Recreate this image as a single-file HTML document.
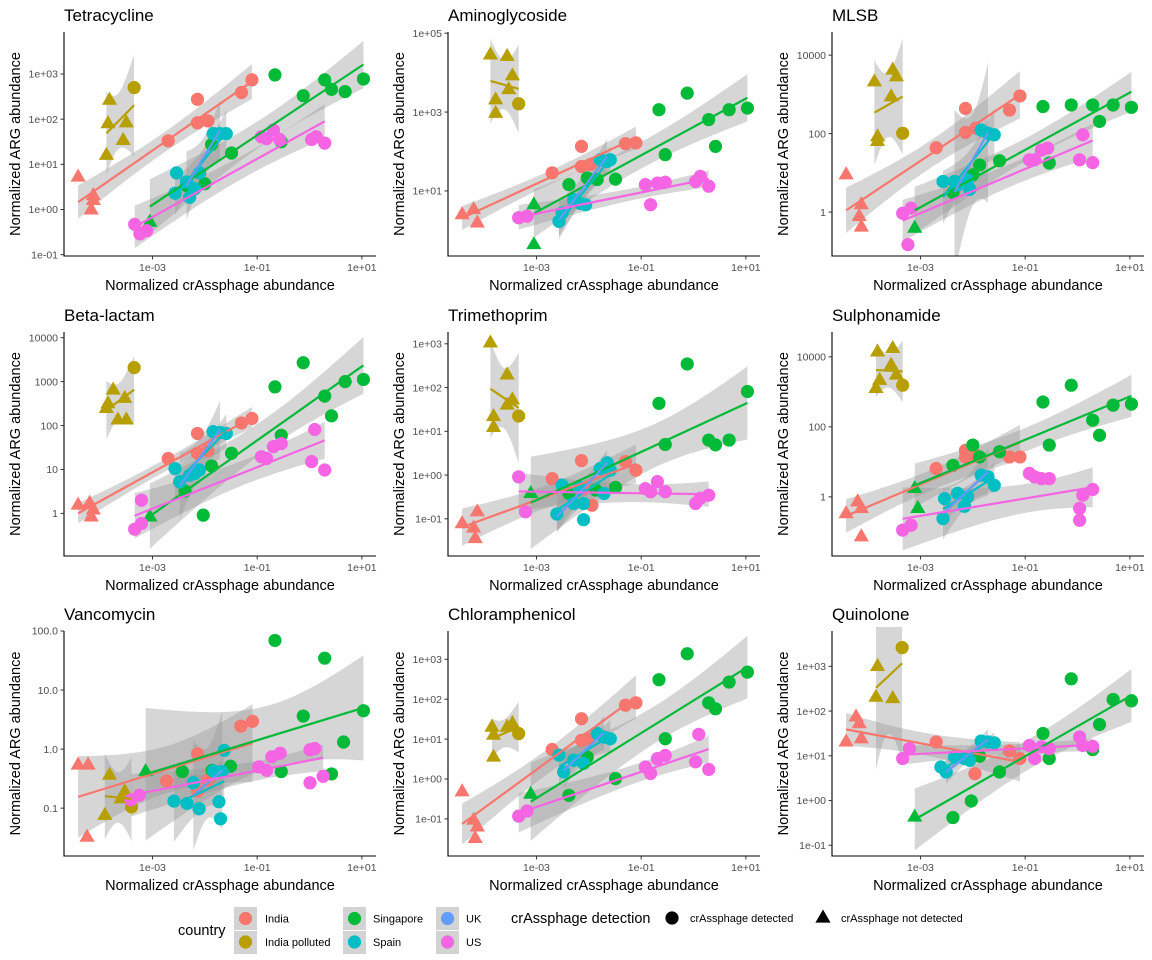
<!DOCTYPE html>
<html><head><meta charset="utf-8">
<style>
html,body{margin:0;padding:0;background:#fff;}
svg{display:block;font-family:"Liberation Sans",Arial,sans-serif;}
</style></head>
<body>
<svg id="chart" width="1152" height="960" viewBox="0 0 1152 960" xmlns="http://www.w3.org/2000/svg"></svg>
<script>
// ---- data (log10 values): [countryIndex, log10 crAssphage, log10 ARG, detected(1)/not(0)]
const countries = ["India","India polluted","Singapore","Spain","UK","US"];
const countryColors = ["#F8766D","#B79F00","#00BA38","#00BFC4","#619CFF","#F564E3"];
const panelTitles = ["Tetracycline","Aminoglycoside","MLSB","Beta-lactam","Trimethoprim","Sulphonamide","Vancomycin","Chloramphenicol","Quinolone"];
const xTickLogs = [-3,-1,1];
const xTickLabels = ["1e-03","1e-01","1e+01"];
const xDomain = [-4.69,1.27];
const yDomains = [[-1.03,3.93],[-0.65,5.03],[-1.12,4.59],[-0.97,4.13],[-1.85,3.27],[-1.69,4.71],[-1.81,2.0],[-1.93,3.71],[-1.24,3.79]];
const yTickLogs = [[-1,0,1,2,3],[1,3,5],[0,2,4],[0,1,2,3,4],[-1,0,1,2,3],[0,2,4],[-1,0,1,2],[-1,0,1,2,3],[-1,0,1,2,3]];
const yTickLabels = [["1e-01","1e+00","1e+01","1e+02","1e+03"],["1e+01","1e+03","1e+05"],["1","100","10000"],["1","10","100","1000","10000"],["1e-01","1e+00","1e+01","1e+02","1e+03"],["1","100","10000"],["0.1","1.0","10.0","100.0"],["1e-01","1e+00","1e+01","1e+02","1e+03"],["1e-01","1e+00","1e+01","1e+02","1e+03"]];

const tetracycline = [
[0,-2.70,1.52,1],[0,-2.14,2.44,1],[0,-2.14,1.92,1],[0,-1.94,1.96,1],[0,-1.30,2.59,1],[0,-1.10,2.87,1],[0,-4.42,0.72,0],[0,-4.13,0.31,0],[0,-4.13,0.20,0],[0,-4.17,-0.01,0],
[1,-3.35,2.70,1],[1,-3.82,2.42,0],[1,-3.85,1.90,0],[1,-3.50,1.92,0],[1,-3.56,1.53,0],[1,-3.88,1.20,0],
[2,-0.66,2.98,1],[2,-1.87,1.44,1],[2,-1.49,1.25,1],[2,-2.00,0.57,1],[2,-2.35,0.53,1],[2,-0.12,2.52,1],[2,0.29,2.87,1],[2,0.42,2.66,1],[2,0.68,2.61,1],[2,1.03,2.89,1],[2,-0.54,1.50,1],[2,-3.05,-0.28,0],
[4,-2.35,0.61,1],[4,-2.10,0.81,1],[4,-1.84,1.68,1],[4,-1.71,1.68,1],
[3,-1.84,1.68,1],[3,-1.71,1.68,1],[3,-1.59,1.68,1],[3,-2.54,0.81,1],[3,-2.10,0.81,1],[3,-2.57,0.36,1],[3,-2.29,0.27,1],[3,-2.19,0.46,1],[3,-2.35,0.61,1],
[5,-3.34,-0.33,1],[5,-3.24,-0.54,1],[5,-3.11,-0.47,1],[5,-0.92,1.61,1],[5,-0.82,1.57,1],[5,-0.69,1.76,1],[5,-0.57,1.55,1],[5,0.04,1.55,1],[5,0.29,1.47,1],[5,0.13,1.61,1]];
const aminoglycoside = [
[1,-3.88,4.45,0],[1,-3.56,4.41,0],[1,-3.46,3.92,0],[1,-3.53,3.57,0],[1,-3.78,3.31,0],[1,-3.78,2.97,0],[1,-3.34,3.21,1],
[0,-2.70,1.46,1],[0,-2.14,2.13,1],[0,-2.14,1.62,1],[0,-1.97,1.67,1],[0,-1.30,2.20,1],[0,-1.10,2.22,1],[0,-4.42,0.40,0],[0,-4.20,0.53,0],[0,-4.13,0.19,0],
[2,-0.66,3.06,1],[2,-0.12,3.48,1],[2,0.29,2.81,1],[2,0.68,3.06,1],[2,1.03,3.10,1],[2,0.42,2.13,1],[2,-0.54,1.92,1],[2,-2.38,1.16,1],[2,-2.03,1.33,1],[2,-1.84,1.29,1],[2,-1.49,1.30,1],[2,-3.05,0.65,0],[2,-3.05,-0.36,0],
[4,-2.57,0.23,1],[4,-2.29,0.78,1],[4,-1.78,1.79,1],[4,-1.65,1.75,1],
[3,-1.78,1.79,1],[3,-1.65,1.75,1],[3,-1.59,1.79,1],[3,-2.29,0.78,1],[3,-2.16,0.68,1],[3,-2.06,0.65,1],[3,-2.51,0.44,1],[3,-2.57,0.23,1],
[5,-3.34,0.32,1],[5,-3.18,0.36,1],[5,-0.92,1.16,1],[5,-0.82,0.65,1],[5,-0.69,1.20,1],[5,-0.54,1.22,1],[5,0.04,1.24,1],[5,0.13,1.37,1],[5,0.29,1.12,1]];
const mlsb = [
[1,-3.88,3.32,0],[1,-3.53,3.62,0],[1,-3.46,3.45,0],[1,-3.56,2.94,0],[1,-3.82,1.92,0],[1,-3.82,1.80,0],[1,-3.34,2.01,1],
[0,-2.70,1.64,1],[0,-2.14,2.64,1],[0,-2.14,2.03,1],[0,-1.94,2.14,1],[0,-1.30,2.60,1],[0,-1.10,2.96,1],[0,-4.42,0.95,0],[0,-4.13,0.19,0],[0,-4.17,-0.11,0],[0,-4.13,-0.38,0],
[2,-0.66,2.69,1],[2,-0.12,2.73,1],[2,0.29,2.73,1],[2,0.68,2.73,1],[2,1.03,2.67,1],[2,0.42,2.31,1],[2,-0.54,1.25,1],[2,-1.87,1.20,1],[2,-1.49,1.31,1],[2,-2.00,0.95,1],[2,-2.38,0.50,1],[2,-3.11,-0.41,0],
[4,-2.35,0.78,1],[4,-2.06,0.58,1],[4,-1.84,2.09,1],[4,-1.71,2.01,1],
[3,-1.84,2.09,1],[3,-1.71,2.01,1],[3,-1.59,1.97,1],[3,-2.57,0.78,1],[3,-2.35,0.78,1],[3,-2.10,0.82,1],[3,-2.29,0.69,1],[3,-2.06,0.58,1],
[5,-3.34,-0.03,1],[5,-3.18,0.10,1],[5,-3.24,-0.83,1],[5,-0.92,1.33,1],[5,-0.82,1.33,1],[5,-0.69,1.58,1],[5,-0.57,1.63,1],[5,0.04,1.33,1],[5,0.29,1.26,1],[5,0.10,1.97,1]];
const betaLactam = [
[1,-3.35,3.32,1],[1,-3.75,2.81,0],[1,-3.85,2.50,0],[1,-3.53,2.62,0],[1,-3.66,2.13,0],[1,-3.50,2.13,0],[1,-3.88,2.39,0],
[0,-2.70,1.25,1],[0,-2.14,1.82,1],[0,-2.14,1.37,1],[0,-1.94,1.43,1],[0,-1.30,2.06,1],[0,-1.10,2.16,1],[0,-4.42,0.19,0],[0,-4.20,0.23,0],[0,-4.17,-0.08,0],[0,-4.13,0.08,0],
[2,-0.66,2.88,1],[2,-0.12,3.43,1],[2,0.29,2.67,1],[2,0.68,3.00,1],[2,1.03,3.05,1],[2,0.42,2.22,1],[2,-0.54,1.78,1],[2,-1.49,1.37,1],[2,-1.87,1.08,1],[2,-2.38,0.51,1],[2,-2.03,-0.04,1],[2,-3.05,-0.08,0],
[4,-2.48,0.72,1],[4,-2.19,0.91,1],[4,-1.84,1.86,1],[4,-1.71,1.84,1],
[3,-1.84,1.86,1],[3,-1.71,1.84,1],[3,-1.59,1.82,1],[3,-2.57,1.02,1],[3,-2.48,0.72,1],[3,-2.29,0.87,1],[3,-2.10,0.99,1],[3,-2.19,0.91,1],
[5,-3.21,0.30,1],[5,-3.34,-0.36,1],[5,-3.21,-0.23,1],[5,-0.92,1.29,1],[5,-0.82,1.25,1],[5,-0.69,1.52,1],[5,-0.54,1.59,1],[5,0.10,1.91,1],[5,0.04,1.18,1],[5,0.29,0.99,1]];
const trimethoprim = [
[1,-3.88,3.02,0],[1,-3.56,2.29,0],[1,-3.46,1.72,0],[1,-3.56,1.60,0],[1,-3.82,1.34,0],[1,-3.82,1.09,0],[1,-3.34,1.35,1],
[0,-2.70,-0.08,1],[0,-2.14,0.33,1],[0,-1.94,-0.69,1],[0,-2.10,-0.31,1],[0,-1.30,0.31,1],[0,-1.10,0.11,1],[0,-4.42,-1.11,0],[0,-4.13,-0.84,0],[0,-4.20,-1.21,0],[0,-4.17,-1.45,0],
[2,-0.66,1.64,1],[2,-0.12,2.54,1],[2,1.03,1.91,1],[2,-0.54,0.70,1],[2,0.29,0.80,1],[2,0.42,0.69,1],[2,0.68,0.80,1],[2,-1.49,-0.28,1],[2,-1.87,-0.34,1],[2,-2.38,-0.42,1],[2,-3.11,-0.42,0],
[4,-2.61,-0.89,1],[4,-2.29,-0.65,1],[4,-1.78,0.15,1],[4,-1.65,0.28,1],
[3,-2.51,-0.23,1],[3,-2.19,-0.27,1],[3,-1.78,0.15,1],[3,-1.65,0.28,1],[3,-1.59,0.11,1],[3,-1.71,-0.42,1],[3,-2.29,-0.65,1],[3,-2.10,-0.65,1],[3,-2.61,-0.89,1],[3,-2.10,-1.02,1],
[5,-3.34,-0.04,1],[5,-3.21,-0.84,1],[5,-0.92,-0.31,1],[5,-0.82,-0.38,1],[5,-0.69,-0.15,1],[5,-0.54,-0.38,1],[5,0.04,-0.65,1],[5,0.29,-0.46,1],[5,0.13,-0.53,1]];
const sulphonamide = [
[1,-3.82,4.14,0],[1,-3.53,4.24,0],[1,-3.56,3.76,0],[1,-3.46,3.48,0],[1,-3.78,3.33,0],[1,-3.85,3.10,0],[1,-3.34,3.19,1],
[0,-2.70,0.81,1],[0,-2.14,1.33,1],[0,-2.14,1.14,1],[0,-1.94,1.19,1],[0,-1.30,1.14,1],[0,-1.10,1.14,1],[0,-4.42,-0.48,0],[0,-4.20,-0.14,0],[0,-4.13,-0.33,0],[0,-4.13,-1.14,0],
[2,-0.66,2.71,1],[2,-0.12,3.19,1],[2,0.29,2.19,1],[2,0.42,1.76,1],[2,0.68,2.62,1],[2,1.03,2.65,1],[2,-0.54,1.48,1],[2,-1.49,1.29,1],[2,-1.87,1.14,1],[2,-2.00,1.48,1],[2,-2.38,0.90,1],[2,-3.11,0.24,0],[2,-3.05,-0.33,0],
[4,-2.57,-0.62,1],[4,-2.29,0.10,1],[4,-1.84,0.62,1],[4,-1.71,0.57,1],
[3,-1.84,0.62,1],[3,-1.71,0.57,1],[3,-1.59,0.33,1],[3,-2.54,-0.05,1],[3,-2.29,0.10,1],[3,-2.10,0.00,1],[3,-2.16,-0.27,1],[3,-2.57,-0.62,1],
[5,-3.34,-0.95,1],[5,-3.18,-0.81,1],[5,-0.92,0.67,1],[5,-0.82,0.57,1],[5,-0.69,0.52,1],[5,-0.54,0.52,1],[5,0.04,-0.67,1],[5,0.04,-0.33,1],[5,0.10,0.05,1],[5,0.29,0.21,1]];
const vancomycin = [
[0,-4.42,-0.27,0],[0,-4.23,-0.27,0],[0,-4.25,-1.49,0],[0,-2.73,-0.54,1],[0,-2.14,-0.08,1],[0,-2.14,-0.71,1],[0,-1.94,-0.53,1],[0,-1.31,0.39,1],[0,-1.09,0.47,1],
[1,-3.82,-0.44,0],[1,-3.53,-0.72,0],[1,-3.60,-0.84,0],[1,-3.91,-1.12,0],[1,-3.40,-0.98,1],
[2,-0.66,1.84,1],[2,0.29,1.54,1],[2,-0.12,0.56,1],[2,1.03,0.65,1],[2,0.65,0.12,1],[2,0.42,-0.42,1],[2,-0.54,-0.38,1],[2,-1.51,-0.29,1],[2,-1.86,-0.36,1],[2,-2.43,-0.38,1],[2,-3.13,-0.38,0],
[4,-2.22,-0.57,1],[4,-2.11,-1.01,1],[4,-1.83,-0.37,1],[4,-1.67,-0.38,1],
[3,-1.63,-0.02,1],[3,-1.83,-0.37,1],[3,-1.67,-0.38,1],[3,-2.22,-0.57,1],[3,-2.59,-0.88,1],[3,-2.34,-0.92,1],[3,-2.11,-1.01,1],[3,-1.73,-0.89,1],[3,-1.70,-1.18,1],
[5,-3.41,-0.86,1],[5,-3.25,-0.78,1],[5,-0.97,-0.30,1],[5,-0.82,-0.36,1],[5,-0.72,-0.13,1],[5,-0.56,-0.07,1],[5,0.01,-0.01,1],[5,0.10,0.01,1],[5,0.01,-0.57,1],[5,0.26,-0.46,1]];
const chloramphenicol = [
[0,-4.42,-0.32,0],[0,-4.20,-1.03,0],[0,-4.13,-1.20,0],[0,-4.17,-1.49,0],[0,-2.70,0.74,1],[0,-2.14,1.51,1],[0,-2.14,0.97,1],[0,-2.03,1.01,1],[0,-1.30,1.85,1],[0,-1.10,1.91,1],
[1,-3.85,1.30,0],[1,-3.82,1.10,0],[1,-3.82,0.55,0],[1,-3.56,1.30,0],[1,-3.46,1.39,0],[1,-3.34,1.14,1],
[2,-0.66,2.49,1],[2,-0.12,3.14,1],[2,0.68,2.43,1],[2,1.03,2.68,1],[2,0.29,1.91,1],[2,0.42,1.76,1],[2,-0.54,1.01,1],[2,-1.49,0.01,1],[2,-2.38,-0.41,1],[2,-2.03,0.55,1],[2,-3.11,-0.38,0],
[4,-2.48,0.18,1],[4,-2.29,0.47,1],[4,-1.84,1.14,1],[4,-1.71,1.05,1],
[3,-1.84,1.14,1],[3,-1.71,1.05,1],[3,-1.59,1.01,1],[3,-2.57,0.60,1],[3,-2.29,0.47,1],[3,-2.10,0.39,1],[3,-2.48,0.18,1],
[5,-3.34,-0.93,1],[5,-3.18,-0.80,1],[5,-0.92,0.30,1],[5,-0.82,0.14,1],[5,-0.69,0.51,1],[5,-0.54,0.59,1],[5,0.04,0.43,1],[5,0.29,0.24,1],[5,0.10,1.12,1]];
const quinolone = [
[0,-4.23,1.87,0],[0,-4.42,1.31,0],[0,-4.13,1.38,0],[0,-4.17,1.72,0],[0,-2.70,1.31,1],[0,-1.96,0.60,1],[0,-1.30,1.11,1],[0,-1.10,0.94,1],
[1,-3.35,3.42,1],[1,-3.82,3.00,0],[1,-3.85,2.31,0],[1,-3.53,2.28,0],
[2,-0.12,2.72,1],[2,0.68,2.26,1],[2,1.03,2.23,1],[2,0.42,1.70,1],[2,0.29,1.14,1],[2,-0.66,1.50,1],[2,-0.54,0.94,1],[2,-1.87,0.99,1],[2,-1.49,0.64,1],[2,-2.03,-0.01,1],[2,-2.38,-0.38,1],[2,-3.11,-0.37,0],
[4,-2.51,0.64,1],[4,-2.16,0.94,1],[4,-1.84,1.33,1],[4,-1.71,1.31,1],
[3,-1.84,1.33,1],[3,-1.71,1.31,1],[3,-1.59,1.29,1],[3,-2.35,0.97,1],[3,-2.16,0.94,1],[3,-2.06,0.90,1],[3,-2.61,0.75,1],[3,-2.51,0.64,1],
[5,-3.34,0.94,1],[5,-3.21,1.16,1],[5,-0.92,1.23,1],[5,-0.82,0.94,1],[5,-0.69,1.20,1],[5,-0.54,1.16,1],[5,0.04,1.42,1],[5,0.10,1.23,1],[5,0.29,1.21,1]];
const panelData = [tetracycline,aminoglycoside,mlsb,betaLactam,trimethoprim,sulphonamide,vancomycin,chloramphenicol,quinolone];

// ---- layout
const NS = "http://www.w3.org/2000/svg";
const svg = document.getElementById("chart");
const colLeft = [0,384,768];
const rowBox = [[32,256],[332,556],[631,856]];
const tTable = [0,12.71,4.30,3.18,2.78,2.57,2.45,2.36,2.31,2.26,2.23,2.20,2.18,2.16,2.14,2.13];
function mk(tag, attrs, parent){
  const e = document.createElementNS(NS, tag);
  for (const k in attrs) e.setAttribute(k, attrs[k]);
  (parent||svg).appendChild(e);
  return e;
}
function fit(pts){
  const n = pts.length;
  let mx=0,my=0; pts.forEach(p=>{mx+=p[1];my+=p[2];}); mx/=n; my/=n;
  let sxx=0,sxy=0; pts.forEach(p=>{sxx+=(p[1]-mx)**2; sxy+=(p[1]-mx)*(p[2]-my);});
  const b = sxy/sxx, a = my - b*mx;
  let sse=0; pts.forEach(p=>{sse+=(p[2]-a-b*p[1])**2;});
  const df = n-2, s = Math.sqrt(sse/Math.max(df,1));
  const t = df < tTable.length ? tTable[Math.max(df,1)] : 2.1;
  return {a,b,mx,sxx,n,s,t};
}

panelData.forEach((data, pi) => {
  const cx = colLeft[pi%3], row = rowBox[Math.floor(pi/3)];
  const L = cx+64, R = cx+376, T = row[0], B = row[1];
  const yd = yDomains[pi];
  const xs = v => L + (v - xDomain[0])/(xDomain[1]-xDomain[0])*(R-L);
  const ys = v => B - (v - yd[0])/(yd[1]-yd[0])*(B-T);
  const g = mk("g", {});
  
  
  const clipId = "clip"+pi;
  const cp = mk("clipPath", {id:clipId}, g);
  mk("rect", {x:L, y:T-4, width:R-L+4, height:B-T+4}, cp);

  const title = mk("text", {x:L, y:T-11, "font-size":"17", fill:"#000"}, g);
  title.textContent = panelTitles[pi];
  
  

  const groups = countries.map((_,ci)=>data.filter(p=>p[0]===ci));
  const bandG = mk("g", {"clip-path":"url(#"+clipId+")"}, g);
  const lineDefs = [];
  groups.forEach((pts, ci) => {
    if (pts.length < 3) return;
    const f = fit(pts);
    const xmin = Math.min(...pts.map(p=>p[1])), xmax = Math.max(...pts.map(p=>p[1]));
    const up=[], lo=[];
    for (let k=0;k<=40;k++){
      const x = xmin + (xmax-xmin)*k/40;
      const yhat = f.a + f.b*x;
      const se = f.s*Math.sqrt(1/f.n + (x-f.mx)**2/f.sxx);
      up.push(xs(x).toFixed(1)+","+ys(yhat+f.t*se).toFixed(1));
      lo.push(xs(x).toFixed(1)+","+ys(yhat-f.t*se).toFixed(1));
    }
    const band = mk("polygon", {points: up.concat(lo.reverse()).join(" "), fill:"rgba(153,153,153,0.4)"}, bandG);
    
    
    lineDefs.push([ci, xmin, xmax, f]);
  });
  data.forEach(p => {
    const x = xs(p[1]), y = ys(p[2]), col = countryColors[p[0]];
    let el;
    if (p[3]) el = mk("circle", {cx:x, cy:y, r:6.6, fill:col}, g);
    else el = mk("polygon", {points:`${x},${y-8.5} ${x-7.6},${y+4.6} ${x+7.6},${y+4.6}`, fill:col}, g);
    
    
  });
  const lineG = mk("g", {"clip-path":"url(#"+clipId+")"}, g);
  lineDefs.forEach(([ci,xmin,xmax,f]) => {
    const ln = mk("line", {x1:xs(xmin), y1:ys(f.a+f.b*xmin), x2:xs(xmax), y2:ys(f.a+f.b*xmax), stroke:countryColors[ci], "stroke-width":2.2}, lineG);
    
    
  });
  const ax = mk("path", {d:`M${L} ${T} L${L} ${B} L${R} ${B}`, stroke:"#000", "stroke-width":1.1, fill:"none"}, g);
  
  
  xTickLogs.forEach((v,i)=>{
    const x = xs(v);
    mk("line", {x1:x, y1:B, x2:x, y2:B+3.5, stroke:"#333", "stroke-width":1}, g);
    const t = mk("text", {x:x, y:B+15, "font-size":"10.5", fill:"#4d4d4d", "text-anchor":"middle"}, g);
    t.textContent = xTickLabels[i];
    
    
  });
  yTickLogs[pi].forEach((v,i)=>{
    const y = ys(v);
    mk("line", {x1:L-3.5, y1:y, x2:L, y2:y, stroke:"#333", "stroke-width":1}, g);
    const t = mk("text", {x:L-6, y:y+3.7, "font-size":"10.5", fill:"#4d4d4d", "text-anchor":"end"}, g);
    t.textContent = yTickLabels[pi][i];
    
    
  });
  const xt = mk("text", {x:(L+R)/2, y:B+34, "font-size":"14.5", fill:"#000", "text-anchor":"middle"}, g);
  xt.textContent = "Normalized crAssphage abundance";
  
  
  const yc = (T+B)/2;
  const yt = mk("text", {x:cx+20, y:yc, "font-size":"14.5", fill:"#000", "text-anchor":"middle", transform:`rotate(-90 ${cx+20} ${yc})`}, g);
  yt.textContent = "Normalized ARG abundance";
  
  
});
</script>

<svg width="1152" height="960" style="position:absolute;left:0;top:0;font-family:'Liberation Sans',Arial,sans-serif" xmlns="http://www.w3.org/2000/svg">
  <text x="178" y="935" font-size="14.5">country</text>
  <g><rect x="234" y="907" width="23" height="23" fill="#d3d3d3"/><circle cx="245.5" cy="918.5" r="6.6" fill="#F8766D"/><text x="265" y="922.5" font-size="11">India</text></g>
  <g><rect x="234" y="931" width="23" height="23" fill="#d3d3d3"/><circle cx="245.5" cy="942" r="6.6" fill="#B79F00"/><text x="265" y="946" font-size="11">India polluted</text></g>
  <g><rect x="343" y="907" width="23" height="23" fill="#d3d3d3"/><circle cx="354.5" cy="918.5" r="6.6" fill="#00BA38"/><text x="373" y="922.5" font-size="11">Singapore</text></g>
  <g><rect x="343" y="931" width="23" height="23" fill="#d3d3d3"/><circle cx="354.5" cy="942" r="6.6" fill="#00BFC4"/><text x="373" y="946" font-size="11">Spain</text></g>
  <g><rect x="436" y="907" width="23" height="23" fill="#d3d3d3"/><circle cx="447.5" cy="918.5" r="6.6" fill="#619CFF"/><text x="466" y="922.5" font-size="11">UK</text></g>
  <g><rect x="436" y="931" width="23" height="23" fill="#d3d3d3"/><circle cx="447.5" cy="942" r="6.6" fill="#F564E3"/><text x="466" y="946" font-size="11">US</text></g>
  <text x="511" y="923" font-size="14.5">crAssphage detection</text>
  <g><circle cx="672" cy="918" r="6.6" fill="#000"/><text x="690" y="922" font-size="11">crAssphage detected</text></g>
  <g><polygon points="823,909.5 815.4,922.6 830.6,922.6" fill="#000"/><text x="841" y="922" font-size="11">crAssphage not detected</text></g>
</svg>
</body></html>
